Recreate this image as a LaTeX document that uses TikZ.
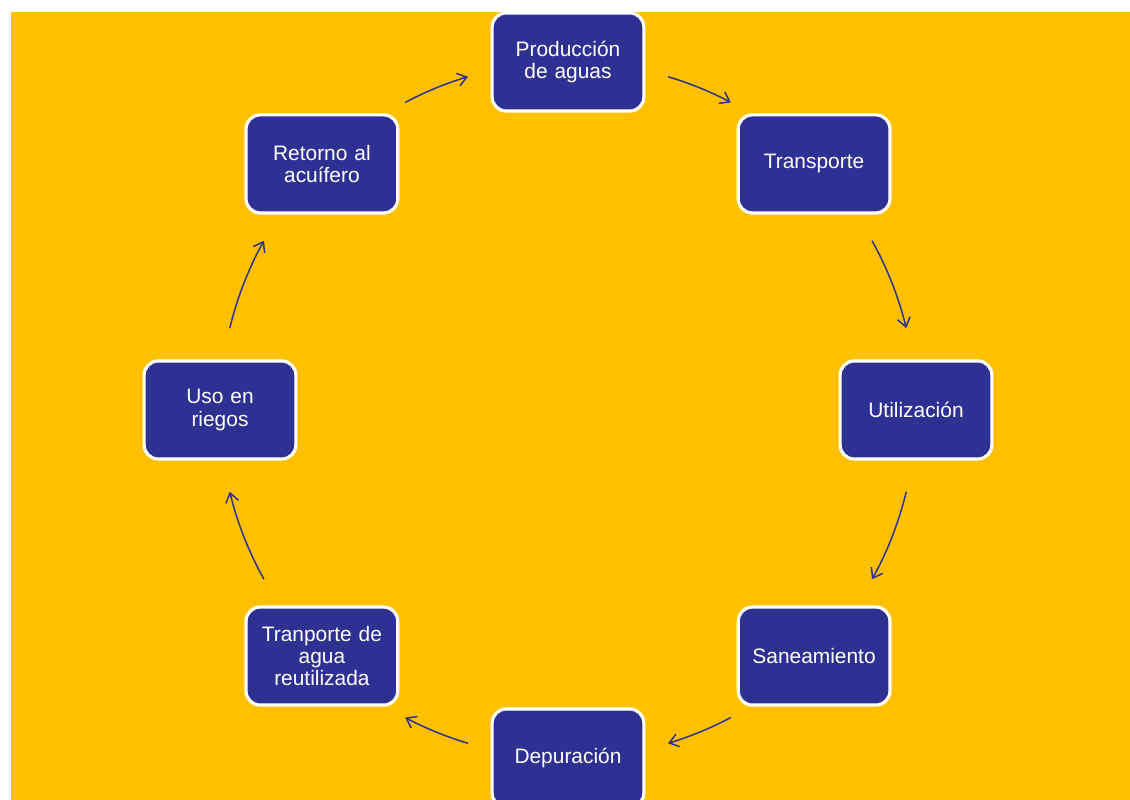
\documentclass[tikz,border=0pt]{standalone}
\usepackage{fontspec}
\setmainfont{Liberation Sans}
\usetikzlibrary{arrows.meta}

\definecolor{cyclebg}{HTML}{FFC000}
\definecolor{stageblue}{HTML}{2E3192}

\tikzset{
	stage/.style={rectangle, rounded corners=0.28cm, draw=white, line width=1.8pt, fill=stageblue,
		minimum width=3.02cm, minimum height=1.96cm, text width=2.8cm, align=center,
		text=white, font=\fontsize{11.9}{12.6}\selectfont},
	flow/.style={draw=stageblue, line width=0.85pt, -{Straight Barb[length=1.8mm, width=2.6mm]}}
}

\begin{document}
\begin{tikzpicture}
		\useasboundingbox (-11.36,-7.8) rectangle (11.24,8.2);
		\clip (-11.36,-7.8) rectangle (11.24,8.2);
		% Draw the background
		\fill[cyclebg] (-11.14,-7.8) rectangle (11.24,7.96);
		
		% Draw the stages
		\node[stage] (prod) at (90:6.96) {Producción\\de aguas};
		\node[stage] (trans) at (45:6.96) {Transporte};
		\node[stage] (util) at (0:6.96) {Utilización};
		\node[stage] (sane) at (-45:6.96) {Saneamiento};
		\node[stage] (depu) at (-90:6.96) {Depuración};
		\node[stage] (reuse) at (-135:6.96) {Tranporte de\\agua\\reutilizada};
		\node[stage] (riego) at (180:6.96) {Uso en\\riegos};
		\node[stage] (retorno) at (135:6.96) {Retorno al\\acuífero};
		
		% Draw the arrows along the circle
		\coordinate (prod-out) at (73.3:6.96);
		\draw[flow] (prod-out) arc[start angle=73.3, end angle=62.1, radius=6.96];
		\coordinate (trans-out) at (29.1:6.96);
		\draw[flow] (trans-out) arc[start angle=29.1, end angle=13.6, radius=6.96];
		\coordinate (util-out) at (-13.6:6.96);
		\draw[flow] (util-out) arc[start angle=-13.6, end angle=-29.1, radius=6.96];
		\coordinate (sane-out) at (-62.1:6.96);
		\draw[flow] (sane-out) arc[start angle=-62.1, end angle=-73.3, radius=6.96];
		\coordinate (depu-out) at (-106.7:6.96);
		\draw[flow] (depu-out) arc[start angle=-106.7, end angle=-117.9, radius=6.96];
		\coordinate (reuse-out) at (-150.9:6.96);
		\draw[flow] (reuse-out) arc[start angle=-150.9, end angle=-166.4, radius=6.96];
		\coordinate (riego-out) at (166.4:6.96);
		\draw[flow] (riego-out) arc[start angle=166.4, end angle=150.9, radius=6.96];
		\coordinate (retorno-out) at (117.9:6.96);
		\draw[flow] (retorno-out) arc[start angle=117.9, end angle=106.7, radius=6.96];
		
	\end{tikzpicture}
\end{document}
